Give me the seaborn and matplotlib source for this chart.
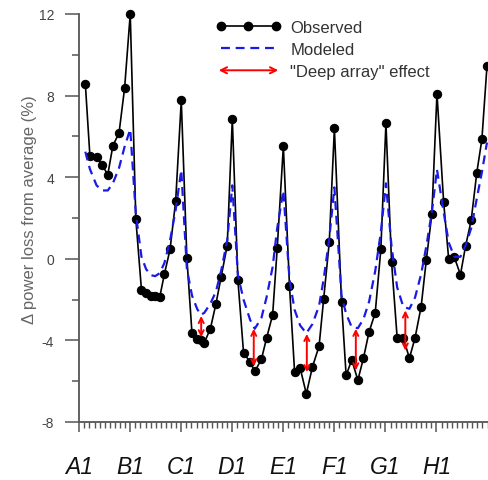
import numpy as np
import pandas as pd
import matplotlib
matplotlib.use("Agg")
import matplotlib.pyplot as plt
import matplotlib.patches as mpatches
from matplotlib.lines import Line2D
from matplotlib.legend_handler import HandlerPatch
from matplotlib.ticker import MultipleLocator
import seaborn as sns

# Turbine position along the row sequence (10 units per row) and power-loss deltas (%)
turbine_pos = [1.2, 2.1, 3.4, 4.5, 5.6, 6.6, 7.8, 8.9,
               10.0, 11.1, 12.2, 13.1, 14.0, 14.9, 15.8, 16.7, 17.8, 18.9,
               20.0, 21.1, 22.1, 23.1, 23.8, 24.5, 25.7, 26.8, 27.8, 29.0,
               30.0, 31.1, 32.2, 33.5, 34.4, 35.7, 36.7, 37.9, 38.8,
               40.0, 41.2, 42.2, 43.3, 44.5, 45.7, 47.0, 47.9, 49.0,
               50.0, 51.4, 52.3, 53.4, 54.6, 55.7, 56.8, 58.0, 59.1,
               60.1, 61.2, 62.3, 63.5, 64.7, 65.8, 67.0, 68.0, 69.1,
               70.1, 71.4, 72.4, 73.5, 74.7, 75.7, 76.8, 77.9, 78.9, 79.9]

observed = [8.58, 5.03, 4.98, 4.60, 4.12, 5.55, 6.16, 8.38,
            12.0, 1.93, -1.53, -1.70, -1.80, -1.80, -1.85, -0.74, 0.46, 2.83,
            7.76, 0.03, -3.66, -3.95, -4.00, -4.12, -3.43, -2.20, -0.90, 0.65,
            6.86, -1.06, -4.60, -5.07, -5.52, -4.93, -3.90, -2.75, 0.52,
            5.52, -1.31, -5.54, -5.36, -6.62, -5.30, -4.28, -1.96, 0.82,
            6.40, -2.12, -5.72, -4.95, -5.95, -4.86, -3.58, -2.65, 0.46,
            6.64, -0.16, -3.88, -3.88, -4.87, -3.88, -2.34, -0.08, 2.20,
            8.10, 2.80, -0.03, 0.08, -0.78, 0.62, 1.88, 4.22, 5.85, 9.45]

modeled = [5.25, 4.40, 3.60, 3.35, 3.35, 3.70, 4.45, 5.50,
           6.35, 2.20, 0.10, -0.50, -0.80, -0.85, -0.70, -0.20, 0.90, 2.40,
           4.35, -0.50, -1.80, -2.45, -2.75, -2.65, -2.20, -1.60, -0.60, 0.90,
           3.60, -0.80, -2.00, -3.00, -3.43, -2.90, -1.90, -0.40, 1.50,
           3.35, -1.00, -2.50, -3.27, -3.65, -3.20, -2.30, -1.00, 1.00,
           3.50, -1.80, -2.70, -3.35, -3.40, -2.95, -2.10, -0.60, 1.30,
           3.70, 0.60, -1.40, -2.35, -2.45, -1.90, -0.75, 0.60, 2.30,
           4.38, 2.30, 0.80, 0.10, 0.10, 0.65, 1.50, 2.95, 4.25, 5.70]

# "Deep array" effect: gap between model and observation in the row interiors
effect_pos = [23.9, 34.2, 44.6, 54.2, 63.9]
effect_top = [-2.80, -3.43, -3.68, -3.43, -2.53]
effect_bottom = [-3.85, -5.27, -5.56, -5.47, -4.50]

row_ticks = [0, 10, 20, 30, 40, 50, 60, 70]
row_labels = ["A1", "B1", "C1", "D1", "E1", "F1", "G1", "H1"]

sns.set_style("ticks")
plt.rcParams["font.family"] = ["Liberation Sans", "DejaVu Sans"]
plt.rcParams["axes.unicode_minus"] = False

df = pd.DataFrame({"pos": turbine_pos, "observed": observed, "modeled": modeled})

fig = plt.figure(figsize=(4.88, 4.81), dpi=100)
ax = fig.add_axes([79.2 / 488, 1 - 423 / 481, 408.3 / 488, 408 / 481])

sns.lineplot(data=df, x="pos", y="observed", ax=ax, sort=False, estimator=None,
             color="black", lw=1.2, marker="o", markersize=6,
             markeredgecolor="black", markerfacecolor="black", zorder=2)
sns.lineplot(data=df, x="pos", y="modeled", ax=ax, sort=False, estimator=None,
             color="#1a1ae6", lw=1.6, dashes=False, zorder=3)
ax.lines[-1].set_dashes((4, 2.6))
for ln in ax.lines:
    ln.set_clip_on(False)

for x, top, bot in zip(effect_pos, effect_top, effect_bottom):
    ax.annotate("", xy=(x, bot), xytext=(x, top),
                arrowprops=dict(arrowstyle="<->", color="red", lw=1.4,
                                shrinkA=0, shrinkB=0, mutation_scale=9),
                zorder=4)

ax.set_xlim(0, 80)
ax.set_ylim(-8, 12)
ax.set_xticks(row_ticks)
ax.set_xticklabels(row_labels, fontsize=16.5, fontstyle="italic", color="#111111")
ax.xaxis.set_minor_locator(MultipleLocator(1))
ax.set_yticks([-8, -4, 0, 4, 8, 12])
ax.yaxis.set_minor_locator(MultipleLocator(2))
ax.tick_params(axis="y", which="major", length=10, width=1.1, color="#555555",
               labelsize=10, labelcolor="#444444", pad=8)
ax.tick_params(axis="y", which="minor", length=5, width=1.1, color="#555555")
ax.tick_params(axis="x", which="major", length=7, width=1.1, color="#555555", pad=17)
ax.tick_params(axis="x", which="minor", length=4.5, width=1.0, color="#555555")
for side in ("top", "right"):
    ax.spines[side].set_visible(False)
for side in ("left", "bottom"):
    ax.spines[side].set_color("#555555")
    ax.spines[side].set_linewidth(1.3)

ax.set_xlabel("")
ax.set_ylabel("\u0394 power loss from average (%)", fontsize=12, color="#666666")
ax.yaxis.set_label_coords(-0.103, 0.524)


def make_arrow(legend, orig_handle, xdescent, ydescent, width, height, fontsize):
    return mpatches.FancyArrowPatch((-xdescent, height / 2 - ydescent),
                                    (width - xdescent, height / 2 - ydescent),
                                    arrowstyle="<->", mutation_scale=11)


h_obs = Line2D([], [], color="black", lw=1.2, marker="o", markersize=6)
h_mod = Line2D([], [], color="#1a1ae6", lw=1.6, dashes=(4, 2.6))
h_eff = mpatches.FancyArrowPatch((0, 0), (1, 0), color="red", lw=1.4)
leg = ax.legend([h_obs, h_mod, h_eff], ["Observed", "Modeled", "\"Deep array\" effect"],
                handler_map={mpatches.FancyArrowPatch: HandlerPatch(patch_func=make_arrow)},
                loc="upper left", bbox_to_anchor=(0.335, 0.985), frameon=False,
                fontsize=12, numpoints=3, handlelength=3.9, handletextpad=0.55,
                labelspacing=0.42, borderpad=0, borderaxespad=0)
for t in leg.get_texts():
    t.set_color("#333333")

fig.savefig("out.png", dpi=100)
